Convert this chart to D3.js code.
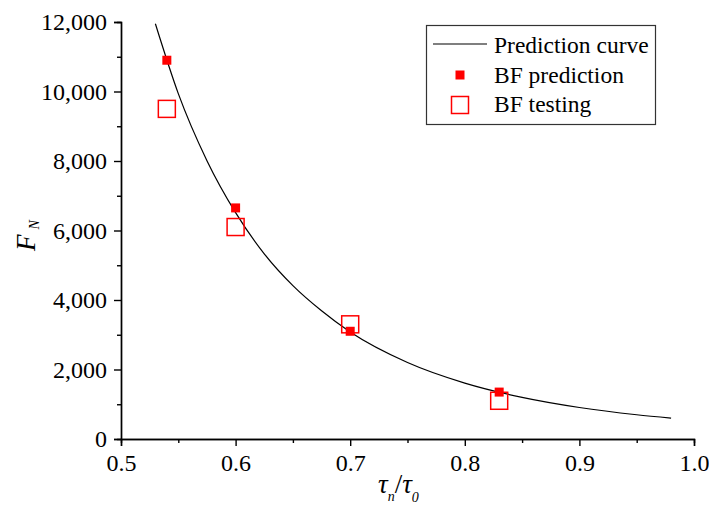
<!DOCTYPE html>
<html>
<head>
<meta charset="utf-8">
<script src="https://cdn.jsdelivr.net/npm/d3@7/dist/d3.min.js"></script>
<style>
  html, body { margin: 0; padding: 0; background: #fff; }
  svg { display: block; }
  text { font-family: "Liberation Serif", "Times New Roman", serif; fill: #000; }
</style>
</head>
<body>
<svg id="chart" width="709" height="505"></svg>
<script>
// Prediction curve, sampled along tau_n / tau_0
const curveRatio = [0.53, 0.55, 0.575, 0.6, 0.625, 0.65, 0.675, 0.7, 0.75, 0.8, 0.85, 0.9, 0.95, 0.98];
const curveForce = [11950, 9940, 8010, 6515, 5330, 4414, 3690, 3079, 2201, 1609, 1198, 907, 698, 600];

// Bolt-failure points
const pointRatio = [0.54, 0.6, 0.7, 0.83];
const bfPrediction = [10900, 6650, 3100, 1350];
const bfTesting = [9500, 6100, 3300, 1100];

// Axis ticks
const xTicks = [0.5, 0.6, 0.7, 0.8, 0.9, 1.0];
const xTickLabels = ["0.5", "0.6", "0.7", "0.8", "0.9", "1.0"];
const yTicks = [0, 2000, 4000, 6000, 8000, 10000, 12000];
const yTickLabels = ["0", "2,000", "4,000", "6,000", "8,000", "10,000", "12,000"];

const legendLabels = ["Prediction curve", "BF prediction", "BF testing"];

const svg = d3.select("#chart");
const plotLeft = 121, plotRight = 694, plotTop = 22, plotBottom = 439;

const x = d3.scaleLinear().domain([0.5, 1.0]).range([plotLeft, plotRight]);
const y = d3.scaleLinear().domain([0, 12000]).range([plotBottom, plotTop]);

const red = "#ff0000";
const fontSize = 24;

// Axes: major ticks plus half-step minor ticks
const xMinor = d3.range(0.55, 1.0, 0.1);
const yMinor = d3.range(1000, 12000, 2000);

const xAxis = svg.append("g").attr("transform", `translate(0,${plotBottom})`);
xAxis.call(d3.axisBottom(x).tickValues(xMinor).tickSize(4).tickFormat(""));
xAxis.append("g").call(d3.axisBottom(x).tickValues(xTicks).tickSize(7)
  .tickFormat((d, i) => xTickLabels[i]));

const yAxis = svg.append("g").attr("transform", `translate(${plotLeft},0)`);
yAxis.call(d3.axisLeft(y).tickValues(yMinor).tickSize(4).tickFormat(""));
yAxis.append("g").call(d3.axisLeft(y).tickValues(yTicks).tickSize(7)
  .tickFormat((d, i) => yTickLabels[i]));

svg.selectAll(".domain").attr("stroke", "#000").attr("stroke-width", 1.4);
svg.selectAll(".tick line").attr("stroke", "#000").attr("stroke-width", 1.4);
svg.selectAll(".tick text")
  .style("font-family", "'Liberation Serif', 'Times New Roman', serif")
  .style("font-size", fontSize + "px")
  .attr("fill", "#000");
xAxis.selectAll(".tick text").attr("y", 32).attr("dy", 0);
yAxis.selectAll(".tick text").attr("x", -14).attr("dy", "0.33em");

// Prediction curve
const line = d3.line()
  .x((d, i) => x(curveRatio[i]))
  .y(d => y(d))
  .curve(d3.curveMonotoneX);
svg.append("path")
  .datum(curveForce)
  .attr("d", line)
  .attr("fill", "none")
  .attr("stroke", "#000")
  .attr("stroke-width", 1.2);

// BF testing: open squares
const openSize = 17;
svg.append("g").selectAll("rect")
  .data(bfTesting)
  .join("rect")
  .attr("x", (d, i) => x(pointRatio[i]) - openSize / 2)
  .attr("y", d => y(d) - openSize / 2)
  .attr("width", openSize)
  .attr("height", openSize)
  .attr("fill", "none")
  .attr("stroke", red)
  .attr("stroke-width", 1.5);

// BF prediction: filled squares
const fillSize = 9;
svg.append("g").selectAll("rect")
  .data(bfPrediction)
  .join("rect")
  .attr("x", (d, i) => x(pointRatio[i]) - fillSize / 2)
  .attr("y", d => y(d) - fillSize / 2)
  .attr("width", fillSize)
  .attr("height", fillSize)
  .attr("fill", red);

// Axis titles
const yTitle = svg.append("text")
  .attr("transform", "translate(35,251) rotate(-90)")
  .attr("text-anchor", "start")
  .style("font-size", "27px");
yTitle.append("tspan").attr("font-style", "italic").text("F");
yTitle.append("tspan").attr("font-style", "italic").attr("font-size", "14px")
  .attr("dx", 5).attr("dy", 4).text("N");

const xTitle = svg.append("text")
  .attr("x", 378)
  .attr("y", 493)
  .attr("text-anchor", "start")
  .style("font-size", "27px");
xTitle.append("tspan").attr("font-style", "italic").text("τ");
xTitle.append("tspan").attr("font-style", "italic").attr("font-size", "14px")
  .attr("dx", 0).attr("dy", 8).text("n");
xTitle.append("tspan").attr("dx", 0).attr("dy", -8).text("/");
xTitle.append("tspan").attr("font-style", "italic").text("τ");
xTitle.append("tspan").attr("font-style", "italic").attr("font-size", "14px")
  .attr("dx", 0).attr("dy", 9).text("0");

// Legend
const legend = svg.append("g");
legend.append("rect")
  .attr("x", 426.5).attr("y", 25.5).attr("width", 229).attr("height", 99)
  .attr("fill", "#fff").attr("stroke", "#333").attr("stroke-width", 1.2);
legend.append("line")
  .attr("x1", 433).attr("x2", 487).attr("y1", 44).attr("y2", 44)
  .attr("stroke", "#000").attr("stroke-width", 1.2);
legend.append("rect")
  .attr("x", 460 - fillSize / 2).attr("y", 75 - fillSize / 2)
  .attr("width", fillSize).attr("height", fillSize).attr("fill", red);
legend.append("rect")
  .attr("x", 460 - openSize / 2).attr("y", 105 - openSize / 2)
  .attr("width", openSize).attr("height", openSize)
  .attr("fill", "none").attr("stroke", red).attr("stroke-width", 1.5);
legend.selectAll("text.lab")
  .data(legendLabels)
  .join("text")
  .attr("class", "lab")
  .attr("x", 494)
  .attr("y", (d, i) => [53, 83, 112][i])
  .style("font-size", "23.5px")
  .text(d => d);
</script>
</body>
</html>
